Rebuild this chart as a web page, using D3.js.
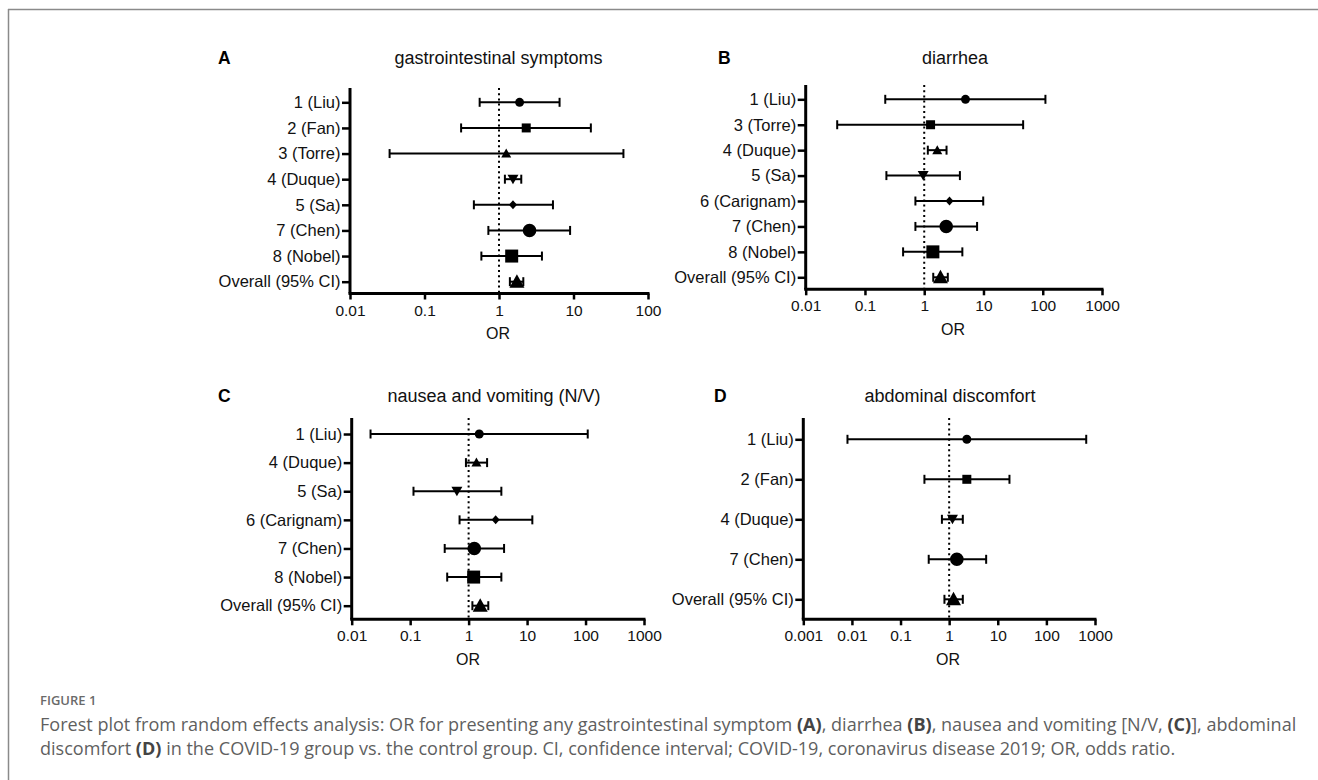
<!DOCTYPE html>
<html><head><meta charset="utf-8">
<script src="https://cdn.jsdelivr.net/npm/d3@7"></script>
<style>
body{margin:0;background:#fff;}
svg{display:block;}
</style></head>
<body>
<svg id="c" width="1318" height="780"></svg>
<script>
// ---------- DATA ----------
const panelLetters = ["A","B","C","D"];
const panelTitles = ["gastrointestinal symptoms","diarrhea","nausea and vomiting (N/V)","abdominal discomfort"];

const catsA = ["1 (Liu)","2 (Fan)","3 (Torre)","4 (Duque)","5 (Sa)","7 (Chen)","8 (Nobel)","Overall (95% CI)"];
const orA   = [1.89, 2.32, 1.25, 1.54, 1.54, 2.57, 1.48, 1.74];
const loA   = [0.55, 0.31, 0.034, 1.20, 0.46, 0.72, 0.58, 1.40];
const hiA   = [6.5, 17.1, 46.8, 1.99, 5.3, 9.0, 3.77, 2.12];
const symA  = ["circleS","square","triUpS","triDown","diamond","circleL","squareL","triUpL"];
const ticksA = ["0.01","0.1","1","10","100"];

const catsB = ["1 (Liu)","3 (Torre)","4 (Duque)","5 (Sa)","6 (Carignam)","7 (Chen)","8 (Nobel)","Overall (95% CI)"];
const orB   = [4.97, 1.28, 1.66, 0.96, 2.67, 2.35, 1.40, 1.88];
const loB   = [0.22, 0.034, 1.15, 0.23, 0.71, 0.71, 0.44, 1.42];
const hiB   = [111, 46.7, 2.38, 4.0, 9.9, 7.8, 4.4, 2.5];
const symB  = ["circleS","square","triUpS","triDown","diamond","circleL","squareL","triUpL"];
const ticksB = ["0.01","0.1","1","10","100","1000"];

const catsC = ["1 (Liu)","4 (Duque)","5 (Sa)","6 (Carignam)","7 (Chen)","8 (Nobel)","Overall (95% CI)"];
const orC   = [1.52, 1.36, 0.63, 2.9, 1.25, 1.22, 1.58];
const loC   = [0.021, 0.90, 0.114, 0.70, 0.39, 0.43, 1.16];
const hiC   = [109, 2.07, 3.63, 12.3, 4.04, 3.63, 2.17];
const symC  = ["circleS","triUpS","triDown","diamond","circleL","squareL","triUpL"];
const ticksC = ["0.01","0.1","1","10","100","1000"];

const catsD = ["1 (Liu)","2 (Fan)","4 (Duque)","7 (Chen)","Overall (95% CI)"];
const orD   = [2.31, 2.31, 1.17, 1.44, 1.23];
const loD   = [0.0081, 0.31, 0.71, 0.38, 0.80];
const hiD   = [660, 17.4, 1.91, 5.77, 1.91];
const symD  = ["circleS","square","triDown","circleL","triUpL"];
const ticksD = ["0.001","0.01","0.1","1","10","100","1000"];

const captionLabel = "FIGURE 1";
const captionLine1 = [["Forest plot from random effects analysis: OR for presenting any gastrointestinal symptom ",false],["(A)",true],[", diarrhea ",false],["(B)",true],[", nausea and vomiting [N/V, ",false],["(C)",true],["], abdominal",false]];
const captionLine2 = [["discomfort ",false],["(D)",true],[" in the COVID-19 group vs. the control group. CI, confidence interval; COVID-19, coronavirus disease 2019; OR, odds ratio.",false]];

// ---------- LAYOUT ----------
const panels = [
  {cats:catsA, or:orA, lo:loA, hi:hiA, sym:symA, ticks:ticksA,
   x0:350, x1:648, yTop:88, yAxis:293.5, rowRange:[89.5,294.5],
   letterX:218, titleX:498.5, headY:64, orX:498},
  {cats:catsB, or:orB, lo:loB, hi:hiB, sym:symB, ticks:ticksB,
   x0:805.7, x1:1102, yTop:85, yAxis:289.3, rowRange:[86.6,290],
   letterX:718, titleX:955, headY:64, orX:953},
  {cats:catsC, or:orC, lo:loC, hi:hiC, sym:symC, ticks:ticksC,
   x0:351.7, x1:644, yTop:418, yAxis:619.3, rowRange:[419.7,620],
   letterX:218, titleX:494, headY:402, orX:468},
  {cats:catsD, or:orD, lo:loD, hi:hiD, sym:symD, ticks:ticksD,
   x0:803.3, x1:1095, yTop:418, yAxis:619.3, rowRange:[419.3,619.3],
   letterX:714, titleX:950, headY:402, orX:948}
];

const svg = d3.select("#c");
const FONT = "'Liberation Sans', Arial, sans-serif";

// frame
svg.append("line").attr("x1",8).attr("x2",1318).attr("y1",9.5).attr("y2",9.5)
  .attr("stroke","#8a8a8a").attr("stroke-width",1.5);
svg.append("line").attr("x1",8.5).attr("x2",8.5).attr("y1",9).attr("y2",780)
  .attr("stroke","#8a8a8a").attr("stroke-width",1.5);

function markerPath(type){
  const p = d3.path();
  switch(type){
    case "circleS": p.arc(0,0,4.5,0,2*Math.PI); break;
    case "circleL": p.arc(0,0,6.8,0,2*Math.PI); break;
    case "square": p.rect(-4.5,-4.5,9,9); break;
    case "squareL": p.rect(-6.5,-6.5,13,13); break;
    case "triUpS": p.moveTo(0,-5); p.lineTo(5,4); p.lineTo(-5,4); p.closePath(); break;
    case "triUpL": p.moveTo(0,-7.5); p.lineTo(7.5,6); p.lineTo(-7.5,6); p.closePath(); break;
    case "triDown": p.moveTo(0,5); p.lineTo(5.5,-4.5); p.lineTo(-5.5,-4.5); p.closePath(); break;
    case "diamond": p.moveTo(0,-4.5); p.lineTo(4,0); p.lineTo(0,4.5); p.lineTo(-4,0); p.closePath(); break;
  }
  return p.toString();
}

panels.forEach((P,pi)=>{
  const tickVals = P.ticks.map(Number);
  const x = d3.scaleLog().domain([tickVals[0], tickVals[tickVals.length-1]]).range([P.x0,P.x1]);
  const y = d3.scalePoint().domain(P.cats).range(P.rowRange).padding(0.5);
  const g = svg.append("g");

  // x axis
  const xa = g.append("g").attr("transform",`translate(0,${P.yAxis})`)
    .call(d3.axisBottom(x).tickValues(tickVals).tickFormat((d,i)=>P.ticks[i]).tickSize(6).tickPadding(5).tickSizeOuter(0));
  xa.select(".domain").attr("stroke","#000").attr("stroke-width",3)
    .attr("d",`M${P.x0-1.5},0H${P.x1+1.5}`);
  xa.selectAll(".tick line").attr("stroke","#000").attr("stroke-width",2.5);
  xa.selectAll(".tick text").attr("font-family",FONT).attr("font-size",15.5).attr("fill","#111");

  // y axis
  const ya = g.append("g").attr("transform",`translate(${P.x0},0)`)
    .call(d3.axisLeft(y).tickSize(8).tickPadding(1.5).tickSizeOuter(0));
  ya.select(".domain").attr("stroke","#000").attr("stroke-width",3)
    .attr("d",`M0,${P.yTop}V${P.yAxis}`);
  ya.selectAll(".tick line").attr("stroke","#000").attr("stroke-width",2.5);
  ya.selectAll(".tick text").attr("font-family",FONT).attr("font-size",16.5).attr("fill","#111");

  // reference line at OR = 1
  g.append("line").attr("x1",x(1)).attr("x2",x(1)).attr("y1",P.yTop).attr("y2",P.yAxis)
    .attr("stroke","#000").attr("stroke-width",2).attr("stroke-dasharray","2,3.2");

  // error bars
  const rows = P.cats.map((c,i)=>({c, or:P.or[i], lo:P.lo[i], hi:P.hi[i], s:P.sym[i]}));
  const eb = g.selectAll(".eb").data(rows).enter().append("g");
  eb.append("line").attr("x1",d=>x(d.lo)).attr("x2",d=>x(d.hi))
    .attr("y1",d=>y(d.c)).attr("y2",d=>y(d.c)).attr("stroke","#000").attr("stroke-width",2);
  eb.append("line").attr("x1",d=>x(d.lo)).attr("x2",d=>x(d.lo))
    .attr("y1",d=>y(d.c)-4.5).attr("y2",d=>y(d.c)+4.5).attr("stroke","#000").attr("stroke-width",2);
  eb.append("line").attr("x1",d=>x(d.hi)).attr("x2",d=>x(d.hi))
    .attr("y1",d=>y(d.c)-4.5).attr("y2",d=>y(d.c)+4.5).attr("stroke","#000").attr("stroke-width",2);
  eb.append("path").attr("d",d=>markerPath(d.s))
    .attr("transform",d=>`translate(${x(d.or)},${y(d.c)})`).attr("fill","#000");

  // header (headY = baseline)
  svg.append("text").attr("x",P.letterX).attr("y",P.headY)
    .attr("font-family",FONT).attr("font-size",17.5).attr("font-weight","bold").text(panelLetters[pi]);
  svg.append("text").attr("x",P.titleX).attr("y",P.headY).attr("text-anchor","middle")
    .attr("font-family",FONT).attr("font-size",18).attr("fill","#111").text(panelTitles[pi]);
  // axis title
  svg.append("text").attr("x",P.orX).attr("y",P.yAxis+40).attr("dy","0.35em").attr("text-anchor","middle")
    .attr("font-family",FONT).attr("font-size",16).attr("fill","#111").text("OR");
});

// caption
const CF = "'Open Sans', 'Noto Sans', sans-serif";
const capX = 40;
svg.append("text").attr("x",capX).attr("y",705).attr("font-family",CF).attr("font-size",13)
  .attr("font-weight",600).attr("fill","#6a6a6a").text(captionLabel);
function capLine(parts, yy, fs){
  const t = svg.append("text").attr("x",capX).attr("y",yy).attr("font-family",CF).attr("font-size",fs)
    .attr("fill","#5f5f5f");
  parts.forEach(([s,b])=>{
    t.append("tspan").attr("font-weight",b?700:400).attr("fill",b?"#444":"#5f5f5f").text(s);
  });
  return t;
}
// fit caption size so the first line ends near the right margin
const probe = capLine(captionLine1, 731, 16);
const w16 = probe.node().getComputedTextLength();
const fs = 16 * (1297 - capX) / w16;
probe.attr("font-size", fs);
capLine(captionLine2, 755, fs);
</script>
</body></html>
